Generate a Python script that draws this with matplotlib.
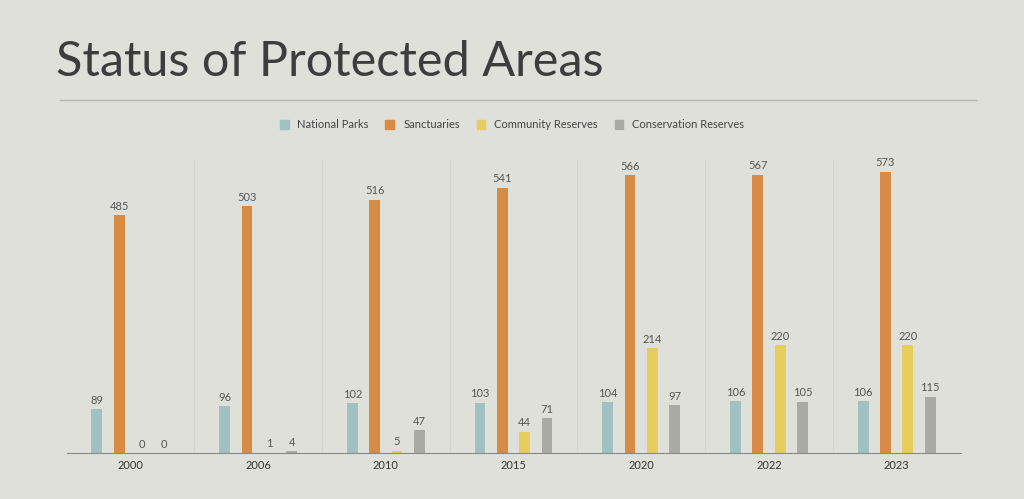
import numpy as np
import matplotlib
matplotlib.use("Agg")
import matplotlib.pyplot as plt
from matplotlib.lines import Line2D

years = ["2000", "2006", "2010", "2015", "2020", "2022", "2023"]
national_parks = [89, 96, 102, 103, 104, 106, 106]
sanctuaries = [485, 503, 516, 541, 566, 567, 573]
community = [0, 1, 5, 44, 214, 220, 220]
conservation = [0, 4, 47, 71, 97, 105, 115]
series = ["National Parks", "Sanctuaries", "Community Reserves", "Conservation Reserves"]
colors = ["#a0c1c2", "#d88b44", "#e6cd5e", "#a9aaa5"]

bg = "#e0e0da"
plt.rcParams["font.family"] = ["Lato", "DejaVu Sans"]
fig = plt.figure(figsize=(10.24, 4.99), dpi=100, facecolor=bg)
ax = fig.add_axes([0.065, 0.092, 0.873, 0.59], facecolor=bg)

x = np.arange(len(years))
w = 0.085
offsets = [-1.5, -0.5, 0.5, 1.5]
step = 0.175
for vals, c, o in zip([national_parks, sanctuaries, community, conservation], colors, offsets):
    xs = x + o * step
    ax.bar(xs, vals, width=w, color=c)
    for xi, v in zip(xs, vals):
        ax.text(xi, v + 7, str(v), ha="center", va="bottom", fontsize=8, color="#555555")

ax.set_xlim(-0.5, len(years) - 0.5)
ax.set_ylim(0, 600)
ax.set_xticks(x)
ax.set_xticklabels(years, fontsize=8, color="#333333")
ax.tick_params(axis="x", length=0, pad=5)
ax.set_yticks([])
for b in np.arange(0.5, len(years) - 0.5, 1):
    ax.axvline(b, color="#d7d7d1", lw=0.7, zorder=0)
for s in ["top", "right", "left"]:
    ax.spines[s].set_visible(False)
ax.spines["bottom"].set_color("#888888")

fig.text(0.055, 0.875, "Status of Protected Areas", fontsize=35, color="#3d3d3d", va="center")
fig.add_artist(Line2D([0.059, 0.953], [0.8, 0.8], color="#b5b5b0", lw=1))

handles = [plt.Rectangle((0, 0), 1, 1, color=c) for c in colors]
fig.legend(handles, series, loc="center", bbox_to_anchor=(0.5, 0.75), ncol=4,
           frameon=False, fontsize=8, handlelength=0.8, handleheight=0.8,
           columnspacing=1.5, labelcolor="#444444")

fig.savefig("out.png", dpi=100, facecolor=bg)
